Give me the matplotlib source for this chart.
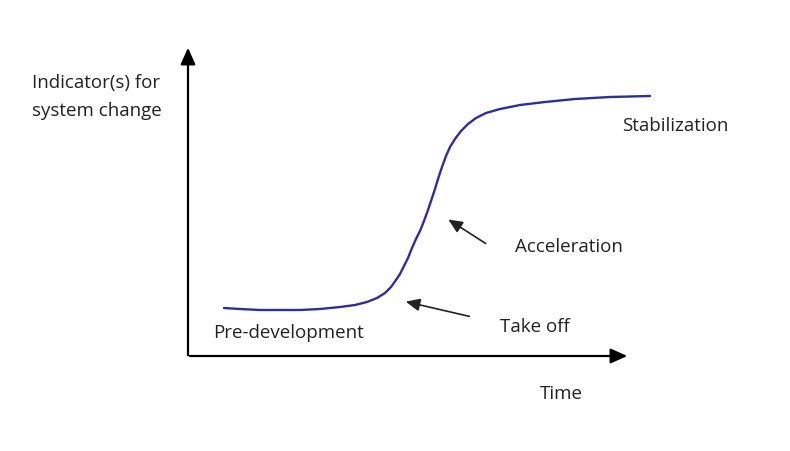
import numpy as np
import matplotlib.pyplot as plt

# S-curve (pixel coords, y grows downward)
curve_x = [224, 240, 260, 280, 300, 320, 340, 355, 367, 377, 385, 391, 396, 400, 404, 408, 412,
           416, 420, 424, 428, 432, 435, 438, 442, 446, 450, 455, 461, 468, 476, 486, 500, 520,
           545, 575, 610, 650]
curve_y = [309, 310, 311, 311, 311, 310, 308, 306, 303, 299, 294, 288, 281, 275, 267, 259, 249,
           240, 232, 222, 211, 199, 190, 180, 168, 157, 148, 140, 132, 125, 119, 114, 110, 106,
           103, 100, 98, 97]

labels = ["Stabilization", "Acceleration", "Take off", "Pre-development", "Time"]
label_x = [622, 515, 500, 213, 540]
label_y = [126, 247, 327, 333, 394]

# arrows: (tail, tip)
arrow_tail = [(488, 246), (472, 318)]
arrow_tip = [(446, 219), (403, 302)]

plt.rcParams['font.family'] = ['Open Sans', 'DejaVu Sans']

fig = plt.figure(figsize=(7.9, 4.52), dpi=100)
ax = fig.add_axes([0, 0, 1, 1])
ax.set_xlim(0, 790)
ax.set_ylim(452, 0)
ax.axis('off')

# axes with arrow heads
ax.annotate('', xy=(188, 46), xytext=(188, 359),
            arrowprops=dict(arrowstyle='-|>,head_length=1.0,head_width=0.45', color='black', lw=1.6))
ax.annotate('', xy=(630, 357), xytext=(187, 357),
            arrowprops=dict(arrowstyle='-|>,head_length=1.0,head_width=0.45', color='black', lw=1.6))

ax.plot(curve_x, curve_y, color='#2e2e9a', lw=1.7, solid_capstyle='round', solid_joinstyle='round')

for (tx, ty), (hx, hy) in zip(arrow_tail, arrow_tip):
    ax.annotate('', xy=(hx, hy), xytext=(tx, ty),
                arrowprops=dict(arrowstyle='-|>,head_length=0.85,head_width=0.38', color='#222222', lw=1.2))

for s, x, y in zip(labels, label_x, label_y):
    ax.text(x, y, s, fontsize=13.5, color='#222222', ha='left', va='center')

ax.text(32, 97, "Indicator(s) for\nsystem change", fontsize=13.5, color='#222222',
        ha='left', va='center', linespacing=1.7)

fig.savefig('out.png', dpi=100)
